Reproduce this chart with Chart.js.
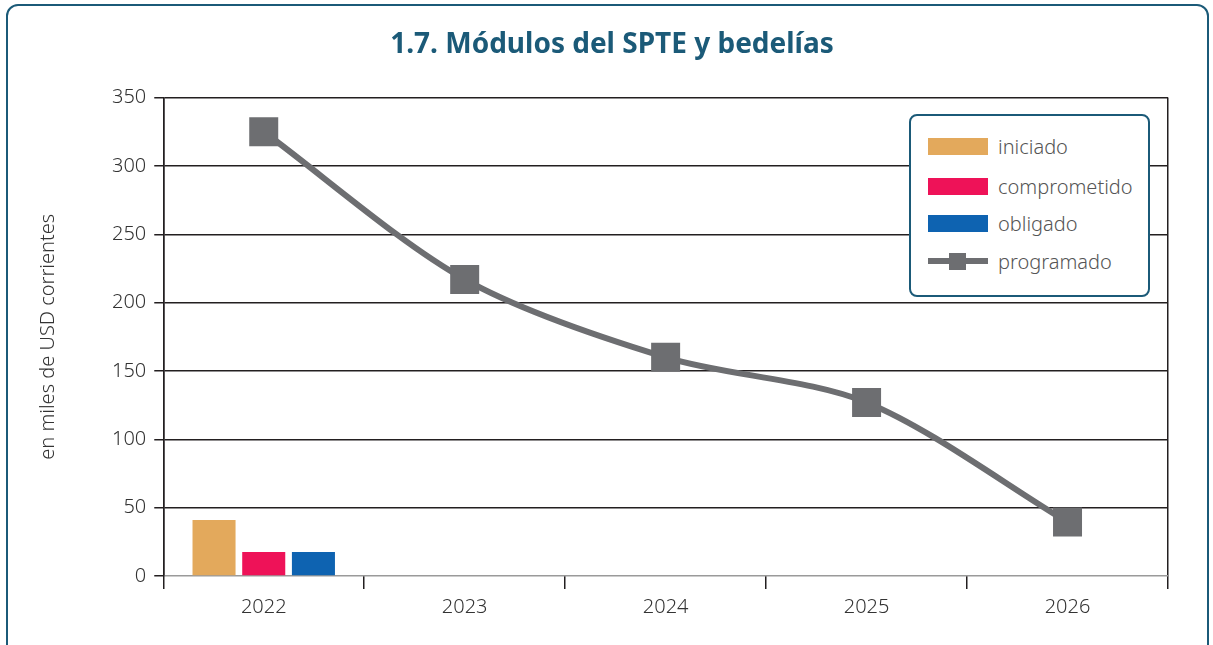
<!DOCTYPE html>
<html>
<head>
<meta charset="utf-8">
<script src="https://cdn.jsdelivr.net/npm/chart.js@4"></script>
<style>
  body { margin: 0; background: #fff; font-family: "Noto Sans", sans-serif; }
  .frame {
    position: absolute; left: 6px; top: 4px; width: 1203px; height: 660px;
    border: 2.5px solid #1b5a78; border-radius: 12px; box-sizing: border-box;
  }
  .wrap { position: absolute; left: 0; top: 0; width: 1213px; height: 645px; }
  .legend {
    position: absolute; left: 909px; top: 114px; width: 241px; height: 183px;
    border: 2.5px solid #1b5a78; border-radius: 8px; box-sizing: border-box; background: #fff;
  }
  .legend .item { position: absolute; left: 17px; height: 24px; display: flex; align-items: center; }
  .legend .sw { width: 60px; height: 17px; margin-right: 10px; position: relative; }
  .legend .txt { font-size: 20px; color: #555; font-weight: 300; }
</style>
</head>
<body>
<div class="frame"></div>
<div class="wrap"><canvas id="chart" width="1213" height="645"></canvas></div>
<div class="legend" id="legend"></div>
<script>
// data
const years = ["2022", "2023", "2024", "2025", "2026"];
const iniciado = [41, null, null, null, null];
const comprometido = [17.6, null, null, null, null];
const obligado = [17.6, null, null, null, null];
const programado = [325, 217, 160, 127, 39.5];
const yTicks = [0, 50, 100, 150, 200, 250, 300, 350];

const barColors = ["#e3a95c", "#ee1258", "#0e63b1"];
const lineColor = "#6d6e71";
const gridDark = "#231f20";

const ctx = document.getElementById("chart").getContext("2d");

const chart = new Chart(ctx, {
  type: "bar",
  data: {
    labels: years,
    datasets: [
      { label: "iniciado", data: iniciado, backgroundColor: barColors[0], order: 2 },
      { label: "comprometido", data: comprometido, backgroundColor: barColors[1], order: 2 },
      { label: "obligado", data: obligado, backgroundColor: barColors[2], order: 2 },
      {
        type: "line",
        label: "programado",
        data: programado,
        borderColor: lineColor,
        backgroundColor: lineColor,
        borderWidth: 6,
        tension: 0.3,
        pointStyle: "rect",
        pointRadius: 20.5,
        pointHoverRadius: 20.5,
        pointBorderWidth: 0,
        order: 1,
      },
    ],
  },
  options: {
    responsive: false,
    animation: false,
    events: [],
    // left padding is bigger so the title centres like the original,
    // the negative axis-title padding below pulls the y label back left
    layout: { padding: { left: 56, right: 45, top: 6, bottom: 20 } },
    datasets: {
      bar: { categoryPercentage: 0.742, barPercentage: 0.866 },
    },
    plugins: {
      legend: { display: false },
      tooltip: { enabled: false },
      title: {
        display: true,
        text: "1.7. Módulos del SPTE y bedelías",
        color: "#1b5a78",
        font: { family: "Noto Sans", size: 28, weight: "bold" },
        padding: { top: 22, bottom: 36 },
      },
    },
    scales: {
      x: {
        offset: true,
        grid: {
          offset: true,
          drawOnChartArea: true,
          // only the outer frame lines show inside the plot
          color: (c) => (c.index === 0 || c.type === "scale" ? gridDark : "rgba(0,0,0,0)"),
          tickColor: gridDark,
          tickLength: 13,
          lineWidth: 1.5,
        },
        border: { display: false },
        ticks: {
          color: "#333",
          padding: 6,
          font: { family: "Noto Sans", size: 20, weight: 300 },
        },
      },
      y: {
        min: 0,
        max: 350,
        afterBuildTicks: (axis) => { axis.ticks = yTicks.map((v) => ({ value: v })); },
        grid: {
          color: (c) => (c.tick && c.tick.value === 0 ? "#9a9a9a" : gridDark),
          tickColor: gridDark,
          tickLength: 9,
          lineWidth: 1.5,
        },
        border: { display: true, color: gridDark, width: 1.5 },
        ticks: {
          color: "#333",
          padding: 8,
          font: { family: "Noto Sans", size: 20, weight: 300 },
        },
        title: {
          display: true,
          text: "en miles de USD corrientes",
          color: "#333",
          padding: { top: -20, bottom: 44 },
          font: { family: "Noto Sans", size: 20, weight: 300 },
        },
      },
    },
  },
});

// html legend built from the chart datasets
const legendDiv = document.getElementById("legend");
const rows = [18, 58, 95, 133];
chart.data.datasets.forEach((ds, i) => {
  const item = document.createElement("div");
  item.className = "item";
  item.style.top = rows[i] + "px";
  const sw = document.createElement("div");
  sw.className = "sw";
  if (ds.type === "line") {
    sw.style.background = "linear-gradient(" + lineColor + "," + lineColor + ") center / 100% 6px no-repeat";
    const sq = document.createElement("div");
    sq.style.cssText = "position:absolute;left:21px;top:0;width:17px;height:17px;background:" + lineColor;
    sw.appendChild(sq);
  } else {
    sw.style.background = ds.backgroundColor;
  }
  const txt = document.createElement("span");
  txt.className = "txt";
  txt.textContent = ds.label;
  item.appendChild(sw);
  item.appendChild(txt);
  legendDiv.appendChild(item);
});
</script>
</body>
</html>
